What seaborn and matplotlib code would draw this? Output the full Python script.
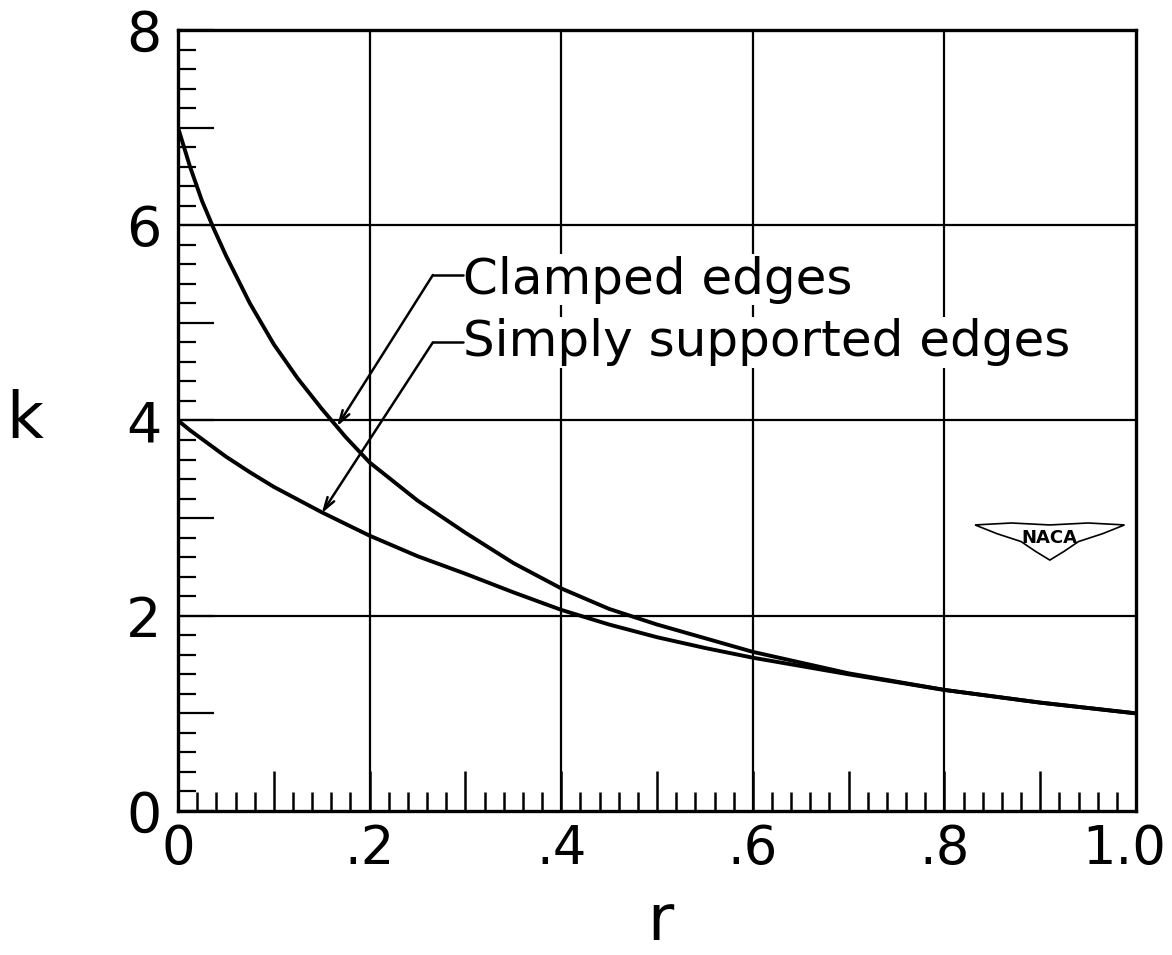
import numpy as np
import matplotlib
matplotlib.use('Agg')
import matplotlib.pyplot as plt
from matplotlib.ticker import MultipleLocator, FixedLocator, FixedFormatter
from matplotlib.transforms import ScaledTranslation
import seaborn as sns

# values
r = [0.0, 0.0125, 0.025, 0.0375, 0.05, 0.075, 0.1, 0.125, 0.15, 0.175, 0.2,
     0.25, 0.3, 0.35, 0.4, 0.45, 0.5, 0.55, 0.6, 0.7, 0.8, 0.9, 1.0]
k_clamped = [7.0, 6.60, 6.25, 5.96, 5.69, 5.2, 4.78, 4.43, 4.12, 3.83, 3.57,
             3.18, 2.85, 2.54, 2.28, 2.07, 1.91, 1.77, 1.63, 1.41, 1.24, 1.11, 1.0]
k_simple = [4.0, 3.90, 3.81, 3.72, 3.63, 3.47, 3.32, 3.19, 3.06, 2.94, 2.82,
            2.61, 2.43, 2.24, 2.06, 1.91, 1.78, 1.67, 1.57, 1.40, 1.24, 1.11, 1.0]

x_ticks = [0.0, 0.1, 0.2, 0.3, 0.4, 0.5, 0.6, 0.7, 0.8, 0.9, 1.0]
x_tick_labels = ['0', '', '.2', '', '.4', '', '.6', '', '.8', '', '1.0']
y_ticks = [0, 1, 2, 3, 4, 5, 6, 7, 8]
y_tick_labels = ['0', '', '2', '', '4', '', '6', '', '8']
grid_x = [0.2, 0.4, 0.6, 0.8]
grid_y = [2, 4, 6]

labels = ['Clamped edges', 'Simply supported edges']
label_pos = [(0.297, 5.44), (0.297, 4.80)]
elbow_pos = [(0.266, 5.49), (0.266, 4.80)]
arrow_tip = [(0.166, 3.94), (0.150, 3.05)]

sns.set_style('white')
plt.rcParams['font.family'] = ['DejaVu Sans']
plt.rcParams['text.color'] = 'black'
plt.rcParams['axes.labelcolor'] = 'black'
plt.rcParams['xtick.color'] = 'black'
plt.rcParams['ytick.color'] = 'black'

fig = plt.figure(figsize=(11.72, 9.55), dpi=100)
ax = fig.add_axes([0.1519, 0.1508, 0.8174, 0.8178])

for gx in grid_x:
    ax.axvline(gx, color='black', lw=1.6, zorder=1)
for gy in grid_y:
    ax.axhline(gy, color='black', lw=1.6, zorder=1)

sns.lineplot(x=r, y=k_clamped, ax=ax, color='black', lw=2.8, zorder=3)
sns.lineplot(x=r, y=k_simple, ax=ax, color='black', lw=2.8, zorder=3)

ax.set_xlim(0, 1.0)
ax.set_ylim(0, 8)

# ticks
ax.xaxis.set_major_locator(FixedLocator(x_ticks))
ax.xaxis.set_major_formatter(FixedFormatter(x_tick_labels))
ax.xaxis.set_minor_locator(MultipleLocator(0.02))
ax.yaxis.set_major_locator(FixedLocator(y_ticks))
ax.yaxis.set_major_formatter(FixedFormatter(y_tick_labels))
ax.yaxis.set_minor_locator(MultipleLocator(0.2))

ax.tick_params(axis='x', which='major', direction='in', length=29, width=1.8,
               labelsize=38, pad=9, bottom=True, top=False)
ax.tick_params(axis='x', which='minor', direction='in', length=14, width=1.8,
               bottom=True, top=False)
ax.tick_params(axis='y', which='major', direction='in', length=26, width=1.6,
               labelsize=40, pad=12, left=True, right=False)
ax.tick_params(axis='y', which='minor', direction='in', length=13, width=1.6,
               left=True, right=False)

# the last x label sits a bit inward so it stays on the page
fig.canvas.draw()
last = ax.get_xticklabels()[-1]
last.set_transform(last.get_transform() + ScaledTranslation(-0.12, 0, fig.dpi_scale_trans))

for sp in ax.spines.values():
    sp.set_color('black')
    sp.set_linewidth(2.4)

ax.set_xlabel('r', fontsize=46, va='center', color='black')
ax.set_ylabel('k', fontsize=46, rotation=0, va='center', color='black')
ax.xaxis.set_label_coords(0.503, -0.142)
ax.yaxis.set_label_coords(-0.16, 0.5)

# leader lines with arrows
for lab, lp, ep, tip in zip(labels, label_pos, elbow_pos, arrow_tip):
    ax.text(lp[0], lp[1], lab, fontsize=36, va='center', ha='left', zorder=4,
            bbox=dict(facecolor='white', edgecolor='none', pad=1))
    ax.plot([ep[0], lp[0]], [ep[1], ep[1]], color='black', lw=1.8, zorder=4)
    ax.annotate('', xy=tip, xytext=ep, zorder=4,
                arrowprops=dict(arrowstyle='->,head_length=0.9,head_width=0.28',
                                color='black', lw=1.8,
                                shrinkA=0, shrinkB=0))

# NACA wing logo (decoration)
wing = np.array([[0.832, 2.93], [0.87, 2.95], [0.91, 2.93], [0.95, 2.95],
                 [0.988, 2.93], [0.965, 2.84], [0.94, 2.76], [0.925, 2.66],
                 [0.91, 2.57], [0.895, 2.66], [0.88, 2.76], [0.855, 2.84]])
ax.fill(wing[:, 0], wing[:, 1], facecolor='white', edgecolor='black', lw=1.2,
        zorder=4)
ax.text(0.91, 2.80, 'NACA', fontsize=13, fontweight='bold', ha='center',
        va='center', zorder=5)

fig.savefig('out.png', dpi=100, facecolor='white')
